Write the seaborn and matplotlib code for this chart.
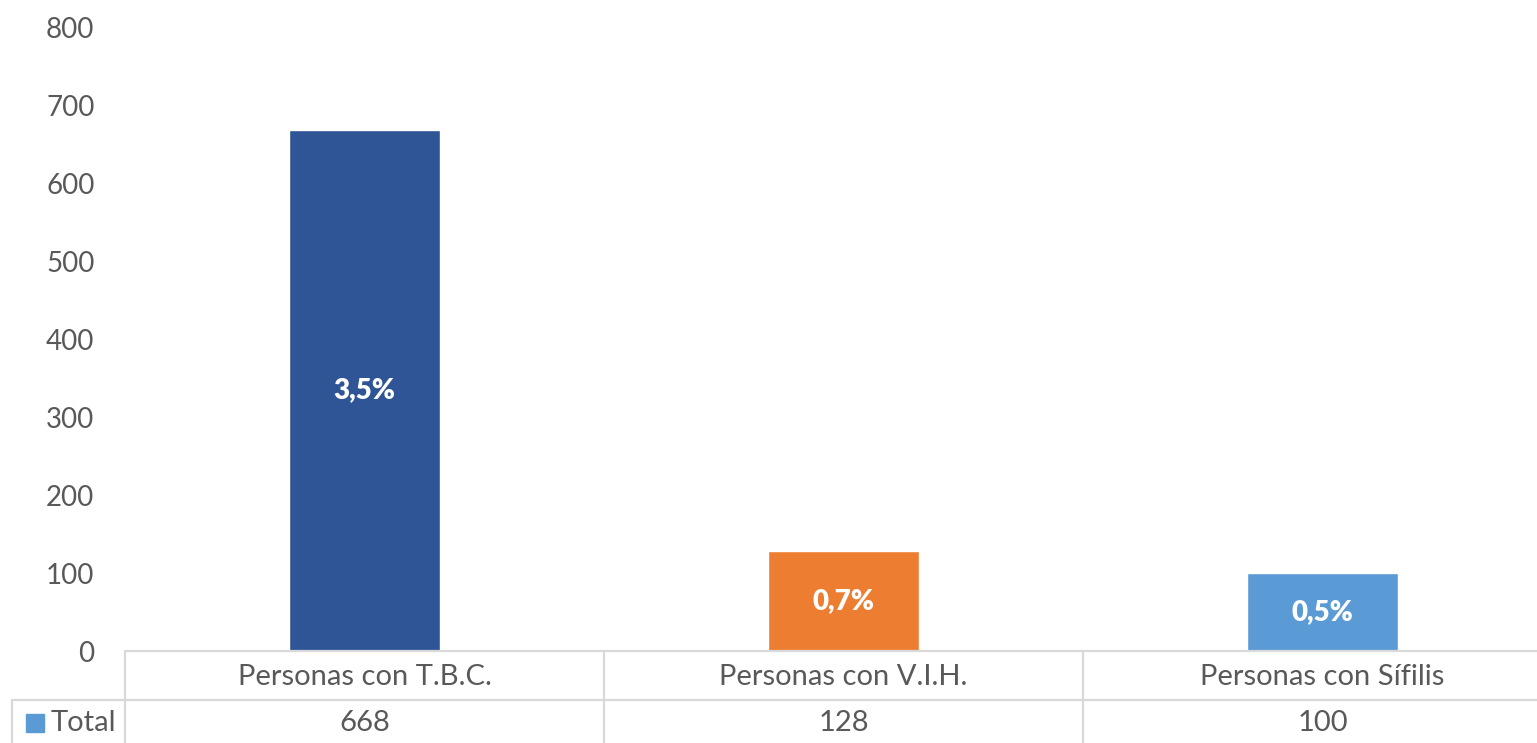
import matplotlib
matplotlib.use("Agg")
import matplotlib.pyplot as plt
import matplotlib.transforms as mtransforms
import pandas as pd
import seaborn as sns

# chart data
categories = ["Personas con T.B.C.", "Personas con V.I.H.", "Personas con Sífilis"]
totals = [668, 128, 100]
pct_labels = ["3,5%", "0,7%", "0,5%"]
bar_colors = ["#2F5597", "#ED7D31", "#5B9BD5"]
series_name = "Total"

sns.set_theme(style="white")
plt.rcParams["font.family"] = ["Lato", "DejaVu Sans"]
text_color = "#595959"
line_color = "#D9D9D9"

df = pd.DataFrame({"categoria": categories, "total": totals})

fig = plt.figure(figsize=(15.37, 7.43), dpi=100)
ax = fig.add_axes([125 / 1537, 92 / 743, 1437 / 1537, 624 / 743])

sns.barplot(data=df, x="categoria", y="total", hue="categoria",
            palette=bar_colors, width=0.315, legend=False, ax=ax,
            saturation=1)

# percentage labels inside the bars
for cont, lab in zip(ax.containers, pct_labels):
    ax.bar_label(cont, labels=[lab], label_type="center", color="white",
                 fontsize=20, fontweight="heavy")

ax.set_xlim(-0.5, 2.5)
ax.set_ylim(0, 800)
ax.set_yticks(range(0, 801, 100))
ax.tick_params(axis="y", labelsize=20, labelcolor=text_color, length=0, pad=22)
ax.set_xticks([])
ax.set_xlabel("")
ax.set_ylabel("")
for s in ax.spines.values():
    s.set_visible(False)

# data table under the chart
tr = mtransforms.blended_transform_factory(ax.transData, ax.transAxes)
row_h = 49 / 624
bottom = -0.2
n = len(categories)
kw = dict(color=line_color, lw=1.6, transform=tr, clip_on=False)
ax.plot([-0.5, n - 0.5], [0, 0], **kw)
ax.plot([-0.736, n - 0.5], [-row_h, -row_h], **kw)
for xv in [i - 0.5 for i in range(n + 1)]:
    ax.plot([xv, xv], [0, bottom], **kw)
ax.plot([-0.736, -0.736], [-row_h, bottom], **kw)

for i, (cat, val) in enumerate(zip(categories, totals)):
    ax.text(i, -0.041, cat, transform=tr, ha="center", va="center",
            fontsize=21, color=text_color)
    ax.text(i, -0.115, str(val), transform=tr, ha="center", va="center",
            fontsize=21, color=text_color)

ax.plot([-0.688], [-0.115], marker="s", markersize=12.5, color=bar_colors[2],
        transform=tr, clip_on=False, linestyle="none")
ax.text(-0.655, -0.115, series_name, transform=tr, ha="left", va="center",
        fontsize=21, color=text_color)

fig.savefig("out.png", dpi=100)
